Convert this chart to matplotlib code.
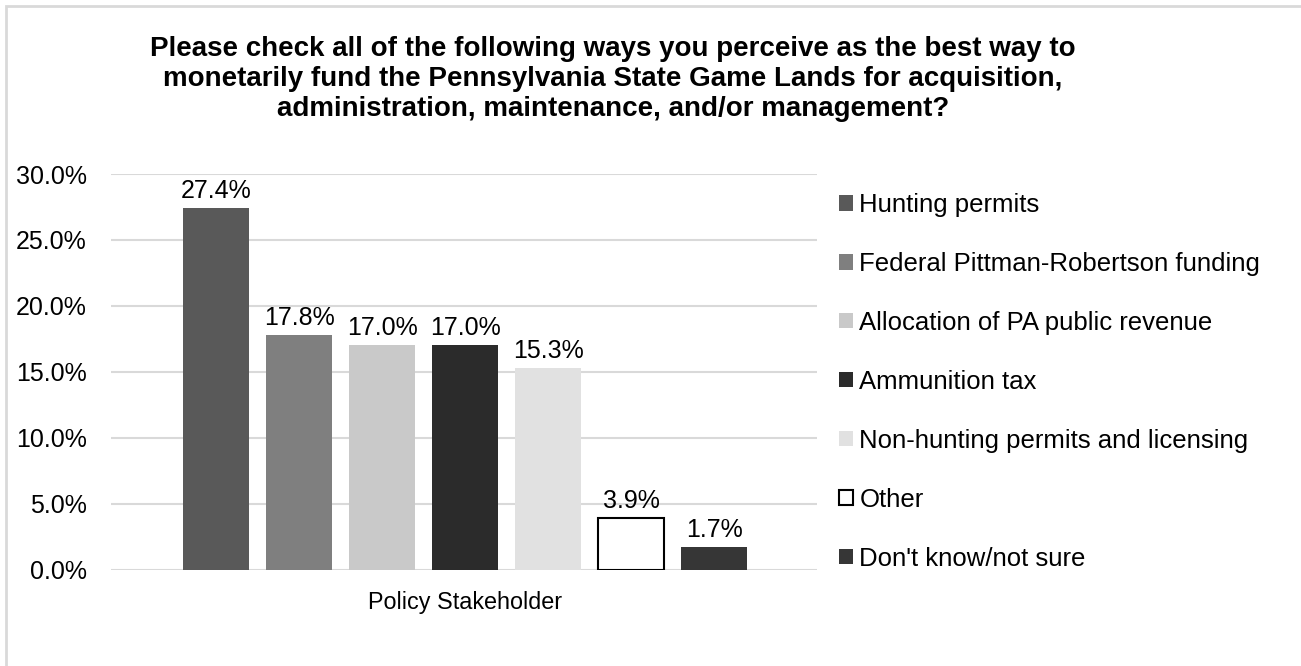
import matplotlib
matplotlib.use("Agg")
import matplotlib.pyplot as plt
from matplotlib.patches import Rectangle
from matplotlib.ticker import FuncFormatter

plt.rcParams['font.family'] = ['Liberation Sans', 'DejaVu Sans']

# ----------------- Data ----------------- #
categories = ["Hunting permits", "Federal Pittman-Robertson funding",
              "Allocation of PA public revenue", "Ammunition tax",
              "Non-hunting permits and licensing", "Other",
              "Don't know/not sure"]
values = [27.4, 17.8, 17.0, 17.0, 15.3, 3.9, 1.7]
group_label = "Policy Stakeholder"
title = ("Please check all of the following ways you perceive as the best way to\n"
         "monetarily fund the Pennsylvania State Game Lands for acquisition,\n"
         "administration, maintenance, and/or management?")

colors = ["#595959", "#7f7f7f", "#c9c9c9", "#2b2b2b", "#e1e1e1", "#ffffff", "#363636"]
edges = ["none", "none", "none", "none", "none", "#000000", "none"]

W, H = 1301, 666
fig = plt.figure(figsize=(W / 100, H / 100), dpi=100)

# chart area border (only top and left edges fall inside the image)
fig.patches.append(Rectangle((5.5 / W, -0.1), 1.2, (H - 6) / H + 0.1,
                             transform=fig.transFigure, fill=False,
                             edgecolor="#d9d9d9", linewidth=2))

ax = fig.add_axes([111 / W, 96.5 / H, (817 - 111) / W, (569.5 - 174) / H])

for i, v in enumerate(values):
    ax.bar(i, v, width=0.795, color=colors[i], edgecolor=edges[i],
           linewidth=1.5 if edges[i] != "none" else 0, label=categories[i],
           zorder=3)
    ax.text(i, v + 0.4, f"{v:.1f}%", ha="center", va="bottom", fontsize=18,
            color="#000000", zorder=4)

ax.set_ylim(0, 30)
ax.set_xlim(-1.265, 7.24)
ax.set_yticks([0, 5, 10, 15, 20, 25, 30])
ax.yaxis.set_major_formatter(FuncFormatter(lambda v, p: f"{v:.1f}%"))
ax.tick_params(axis="y", length=0, pad=17.5, labelsize=18)
ax.set_xticks([])
ax.grid(axis="y", color="#d9d9d9", linewidth=1.5, zorder=0)
for s in ax.spines.values():
    s.set_visible(False)

fig.text(465 / W, 1 - 603 / H, group_label, ha="center", va="center", fontsize=16.8)

fig.text(613 / W, 1 - 79 / H, title, ha="center", va="center", fontsize=20,
         fontweight="bold", linespacing=1.19)

leg = fig.legend(loc="upper left", bbox_to_anchor=(826 / W, 1 - 180 / H),
                 frameon=False, fontsize=18.5, handlelength=0.56, handleheight=0.56,
                 handletextpad=0.24, labelspacing=1.36, borderpad=0)

fig.savefig("out.png", dpi=100)
